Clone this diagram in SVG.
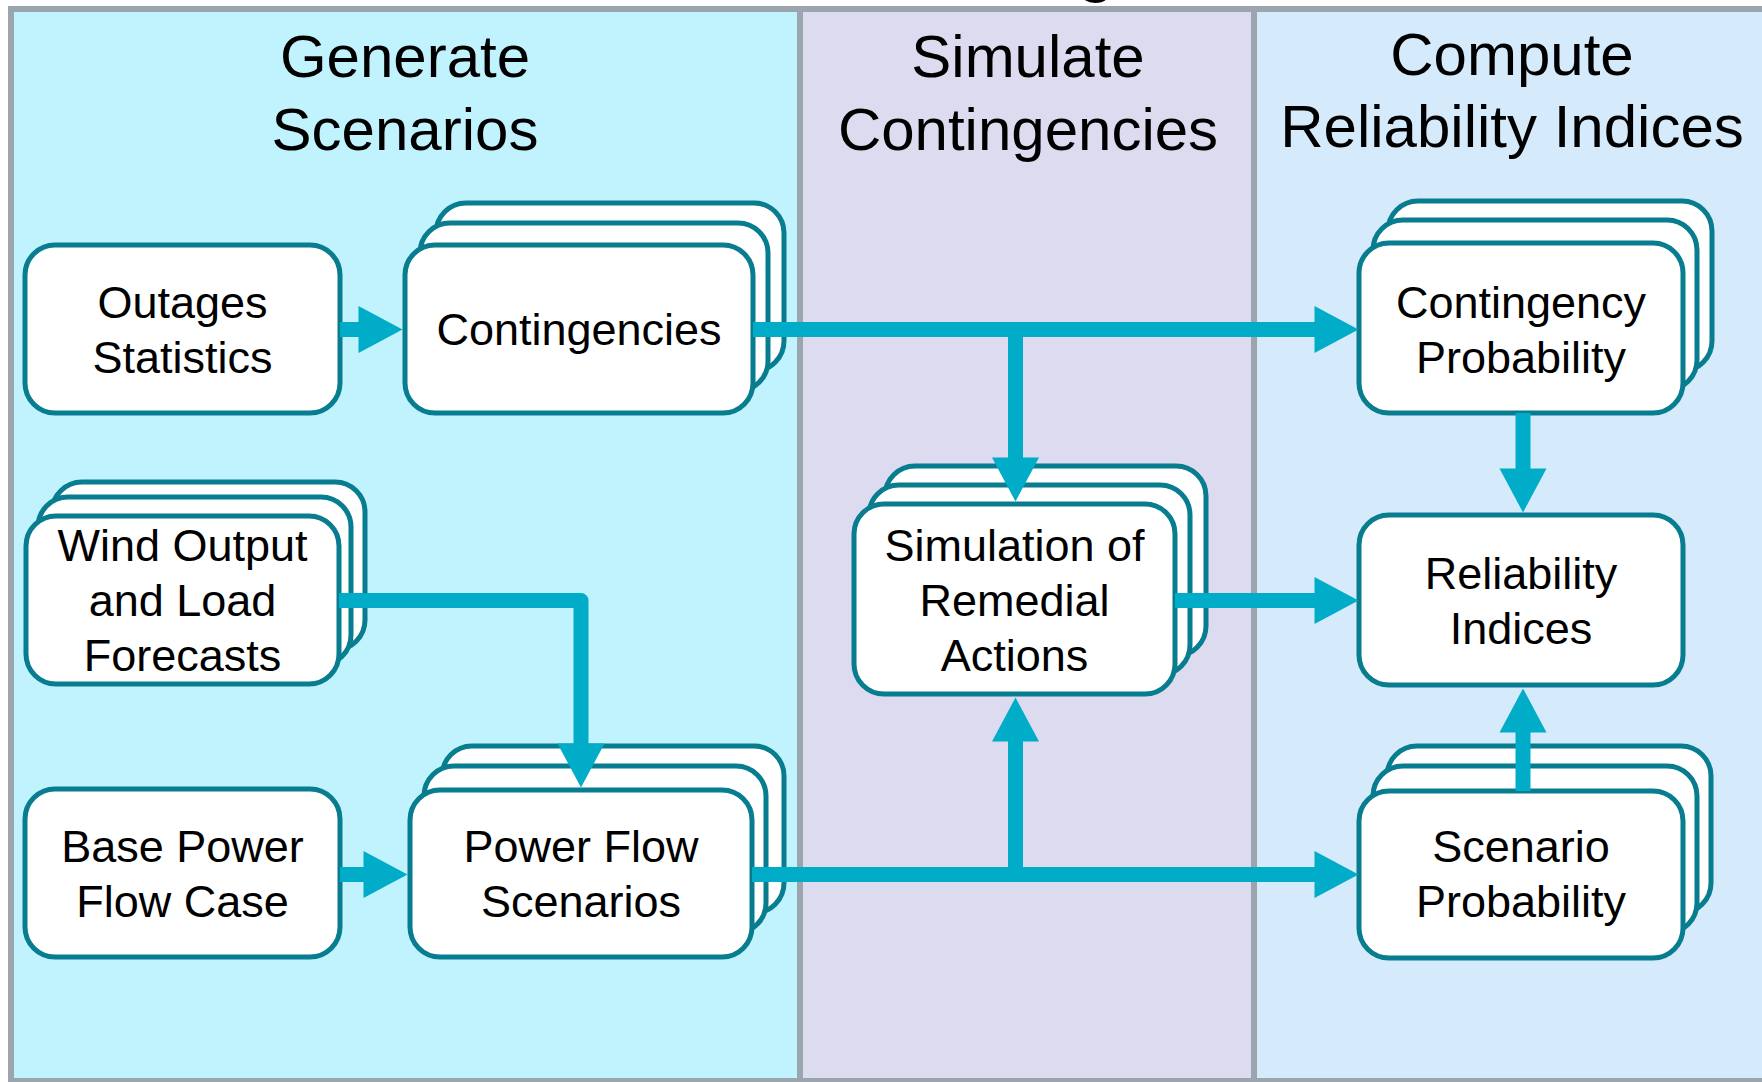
<svg xmlns="http://www.w3.org/2000/svg" width="1762" height="1082" viewBox="0 0 1762 1082">
<style>
text{font-family:"Liberation Sans",Arial,sans-serif;fill:#000;text-anchor:middle}
.hdr{font-size:60px}
.lbl{font-size:45px}
.box{fill:#fff;stroke:#077D8F;stroke-width:5}
.con{fill:none;stroke:#00ACC8;stroke-width:15;stroke-linejoin:round}
.div{stroke:#9BA5AD;stroke-width:6;fill:none}
</style>
<defs>
<marker id="ah" viewBox="0 0 44 47" markerWidth="44" markerHeight="47" markerUnits="userSpaceOnUse" refX="0.5" refY="23.5" orient="auto" overflow="visible">
<path d="M0,0 L44,23.5 L0,47 Z" fill="#00ACC8"/>
</marker>
</defs>
<rect x="0" y="0" width="1762" height="1082" fill="#fff"/>
<text x="1096" y="-12" style="font-size:70px">g</text>
<g id="panels">
<rect x="11" y="9" width="789" height="1072" fill="#C0F3FD"/>
<rect x="800" y="9" width="454" height="1072" fill="#DDDBEF"/>
<rect x="1254" y="9" width="520" height="1072" fill="#D5EBFC"/>
<path class="div" d="M1770,9 H11 V1081 H1770"/>
<path class="div" d="M800,9 V1081 M1254,9 V1081"/>
<text class="hdr" x="405" y="77">Generate</text>
<text class="hdr" x="405" y="150">Scenarios</text>
<text class="hdr" x="1028" y="77">Simulate</text>
<text class="hdr" x="1028" y="150">Contingencies</text>
<text class="hdr" x="1512" y="75">Compute</text>
<text class="hdr" x="1512" y="147">Reliability Indices</text>
</g>
<g id="outages">
<rect class="box" x="25" y="245" width="315" height="168" rx="30"/>
<text class="lbl" x="182.5" y="318">Outages</text>
<text class="lbl" x="182.5" y="373">Statistics</text>
</g>
<g id="contingencies">
<rect class="box" x="436" y="203" width="348" height="168" rx="30"/>
<rect class="box" x="420" y="223" width="348" height="168" rx="30"/>
<rect class="box" x="405" y="245" width="348" height="168" rx="30"/>
<text class="lbl" x="579" y="345">Contingencies</text>
</g>
<g id="wind">
<rect class="box" x="52" y="482" width="313" height="168" rx="30"/>
<rect class="box" x="38" y="497" width="313" height="168" rx="30"/>
<rect class="box" x="26" y="516" width="313" height="168" rx="30"/>
<text class="lbl" x="182.5" y="561">Wind Output</text>
<text class="lbl" x="182.5" y="616">and Load</text>
<text class="lbl" x="182.5" y="671">Forecasts</text>
</g>
<g id="base">
<rect class="box" x="25" y="789" width="315" height="168" rx="30"/>
<text class="lbl" x="182.5" y="862">Base Power</text>
<text class="lbl" x="182.5" y="917">Flow Case</text>
</g>
<g id="powerflow">
<rect class="box" x="442" y="746" width="342" height="167" rx="30"/>
<rect class="box" x="424" y="766" width="342" height="167" rx="30"/>
<rect class="box" x="410" y="790" width="342" height="167" rx="30"/>
<text class="lbl" x="581" y="862">Power Flow</text>
<text class="lbl" x="581" y="917">Scenarios</text>
</g>
<g id="simulation">
<rect class="box" x="885" y="466" width="321" height="190" rx="30"/>
<rect class="box" x="869" y="485" width="321" height="190" rx="30"/>
<rect class="box" x="854" y="504" width="321" height="190" rx="30"/>
<text class="lbl" x="1014.5" y="561">Simulation of</text>
<text class="lbl" x="1014.5" y="616">Remedial</text>
<text class="lbl" x="1014.5" y="671">Actions</text>
</g>
<g id="contprob">
<rect class="box" x="1388" y="201" width="324" height="170" rx="30"/>
<rect class="box" x="1373" y="220" width="324" height="170" rx="30"/>
<rect class="box" x="1359" y="243" width="324" height="170" rx="30"/>
<text class="lbl" x="1521" y="318">Contingency</text>
<text class="lbl" x="1521" y="373">Probability</text>
</g>
<g id="reliability">
<rect class="box" x="1359" y="515" width="324" height="170" rx="30"/>
<text class="lbl" x="1521" y="589">Reliability</text>
<text class="lbl" x="1521" y="644">Indices</text>
</g>
<g id="scenprob">
<rect class="box" x="1387" y="746" width="324" height="167" rx="30"/>
<rect class="box" x="1373" y="766" width="324" height="167" rx="30"/>
<rect class="box" x="1359" y="791" width="324" height="167" rx="30"/>
<text class="lbl" x="1521" y="862">Scenario</text>
<text class="lbl" x="1521" y="917">Probability</text>
</g>
<g id="connectors">
<path class="con" d="M340,329.5 H359" marker-end="url(#ah)"/>
<path class="con" d="M753,329.5 H1315" marker-end="url(#ah)"/>
<path class="con" d="M1015.5,329.5 V458" marker-end="url(#ah)"/>
<path class="con" d="M339,600.5 H581 V744" marker-end="url(#ah)"/>
<path class="con" d="M340,874.5 H364" marker-end="url(#ah)"/>
<path class="con" d="M752,874.5 H1315" marker-end="url(#ah)"/>
<path class="con" d="M1015.5,874.5 V741" marker-end="url(#ah)"/>
<path class="con" d="M1175,600.5 H1315" marker-end="url(#ah)"/>
<path class="con" d="M1523,413 V469" marker-end="url(#ah)"/>
<path class="con" d="M1523,791 V732" marker-end="url(#ah)"/>
</g>
</svg>
